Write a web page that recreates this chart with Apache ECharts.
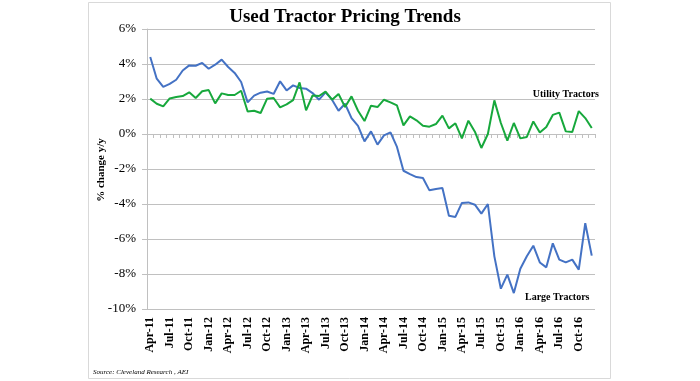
<!DOCTYPE html>
<html>
<head>
<meta charset="utf-8">
<script src="https://cdn.jsdelivr.net/npm/echarts@6/dist/echarts.min.js"></script>
<style>html,body{margin:0;padding:0;background:#fff}#c{width:700px;height:381px}</style>
</head>
<body>
<div id="c"></div>
<script>
var categories = [
  'Apr-11','May-11','Jun-11','Jul-11','Aug-11','Sep-11','Oct-11','Nov-11','Dec-11',
  'Jan-12','Feb-12','Mar-12','Apr-12','May-12','Jun-12','Jul-12','Aug-12','Sep-12','Oct-12','Nov-12','Dec-12',
  'Jan-13','Feb-13','Mar-13','Apr-13','May-13','Jun-13','Jul-13','Aug-13','Sep-13','Oct-13','Nov-13','Dec-13',
  'Jan-14','Feb-14','Mar-14','Apr-14','May-14','Jun-14','Jul-14','Aug-14','Sep-14','Oct-14','Nov-14','Dec-14',
  'Jan-15','Feb-15','Mar-15','Apr-15','May-15','Jun-15','Jul-15','Aug-15','Sep-15','Oct-15','Nov-15','Dec-15',
  'Jan-16','Feb-16','Mar-16','Apr-16','May-16','Jun-16','Jul-16','Aug-16','Sep-16','Oct-16','Nov-16','Dec-16'
];
var largeTractors = [
  4.4, 3.16, 2.69, 2.86, 3.1, 3.63, 3.92, 3.9, 4.06,
  3.73, 3.96, 4.25, 3.83, 3.49, 2.97, 1.81, 2.19, 2.36, 2.43, 2.29, 3.01,
  2.49, 2.78, 2.63, 2.59, 2.34, 1.96, 2.38, 1.96, 1.33, 1.73, 0.91, 0.47,
  -0.42, 0.15, -0.61, -0.08, 0.09, -0.74, -2.1, -2.29, -2.46, -2.51, -3.22, -3.14,
  -3.09, -4.67, -4.74, -3.94, -3.91, -4.04, -4.55, -4.0, -6.99, -8.84, -8.04, -9.09,
  -7.7, -6.99, -6.38, -7.34, -7.62, -6.25, -7.18, -7.34, -7.18, -7.75, -5.1, -6.95
];
var utilityTractors = [
  2.02, 1.73, 1.58, 2.03, 2.11, 2.17, 2.38, 2.06, 2.44,
  2.51, 1.75, 2.32, 2.23, 2.23, 2.47, 1.29, 1.33, 1.2, 2.02, 2.06, 1.52,
  1.69, 1.94, 2.95, 1.35, 2.2, 2.17, 2.42, 1.96, 2.29, 1.54, 2.15, 1.33,
  0.74, 1.62, 1.54, 1.96, 1.81, 1.63, 0.49, 1.01, 0.78, 0.47, 0.42, 0.57,
  1.05, 0.32, 0.61, -0.25, 0.76, 0.13, -0.8, 0.0, 1.92, 0.63, -0.38, 0.63,
  -0.25, -0.17, 0.72, 0.09, 0.4, 1.09, 1.22, 0.15, 0.11, 1.31, 0.91, 0.34
];
var yTicks = { min: -10, max: 6, interval: 2 };

var serif = "'Liberation Serif', 'Times New Roman', serif";
var gridColor = '#c0c0c0';
var chart = echarts.init(document.getElementById('c'), null, { renderer: 'canvas' });
chart.setOption({
  animation: false,
  backgroundColor: '#fff',
  grid: { left: 147, top: 29, width: 448, height: 280, containLabel: false },
  xAxis: [
    {
      type: 'category', data: categories, position: 'bottom', boundaryGap: true,
      axisLine: { show: false, onZero: false },
      axisTick: { show: false },
      axisLabel: { interval: 2, rotate: 90, margin: 8, color: '#000', fontFamily: serif, fontWeight: 'bold', fontSize: 12 },
      splitLine: { show: false }
    },
    {
      type: 'category', data: categories, position: 'bottom', boundaryGap: true,
      axisLine: { show: true, onZero: true, lineStyle: { color: gridColor, width: 1 } },
      axisTick: { show: true, interval: 0, length: 4, lineStyle: { color: gridColor } },
      axisLabel: { show: false },
      splitLine: { show: false }
    }
  ],
  yAxis: {
    type: 'value', min: yTicks.min, max: yTicks.max, interval: yTicks.interval,
    axisLine: { show: true, lineStyle: { color: gridColor } },
    axisTick: { show: true, length: 5, lineStyle: { color: gridColor } },
    axisLabel: { formatter: '{value}%', color: '#000', fontFamily: serif, fontSize: 13, margin: 11 },
    splitLine: { show: true, lineStyle: { color: gridColor, width: 1 } }
  },
  series: [
    { name: 'Large Tractors', type: 'line', xAxisIndex: 0, data: largeTractors, symbol: 'none',
      lineStyle: { color: '#4472c4', width: 2 }, itemStyle: { color: '#4472c4' } },
    { name: 'Utility Tractors', type: 'line', xAxisIndex: 0, data: utilityTractors, symbol: 'none',
      lineStyle: { color: '#17a83c', width: 2 }, itemStyle: { color: '#17a83c' } }
  ],
  graphic: [
    { type: 'rect', shape: { x: 88.5, y: 2.5, width: 522, height: 376 }, style: { fill: 'none', stroke: '#d9d9d9', lineWidth: 1 }, silent: true },
    { type: 'text', x: 345, y: 17, style: { text: 'Used Tractor Pricing Trends', font: 'bold 19px ' + serif, fill: '#000', align: 'center', verticalAlign: 'middle' } },
    { type: 'text', x: 101, y: 170, rotation: Math.PI / 2, style: { text: '% change y/y', font: 'bold 11px ' + serif, fill: '#000', align: 'center', verticalAlign: 'middle' } },
    { type: 'text', x: 599, y: 94, style: { text: 'Utility Tractors', font: 'bold 10px ' + serif, fill: '#000', align: 'right', verticalAlign: 'middle' } },
    { type: 'text', x: 525, y: 297, style: { text: 'Large Tractors', font: 'bold 10px ' + serif, fill: '#000', align: 'left', verticalAlign: 'middle' } },
    { type: 'text', x: 93, y: 372, style: { text: 'Source: Cleveland Research , AEI', font: 'italic 7px ' + serif, fill: '#000', align: 'left', verticalAlign: 'middle' } }
  ]
});
</script>
</body>
</html>
